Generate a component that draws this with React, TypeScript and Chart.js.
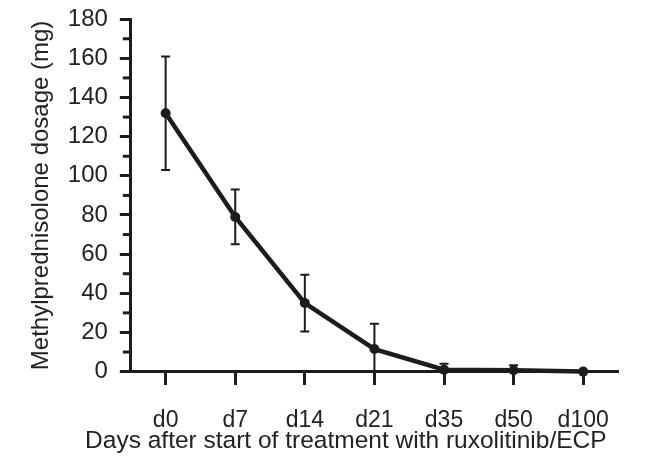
import React, { useEffect, useRef } from "react";
import { Chart, registerables } from "chart.js";

Chart.register(...registerables);

const categories = ["d0", "d7", "d14", "d21", "d35", "d50", "d100"];
const dosage = [132, 79, 35, 11.5, 1, 0.7, 0];
const errors = [29, 14, 14.5, 13, 3, 2.5, 0];
const yTicks = [0, 20, 40, 60, 80, 100, 120, 140, 160, 180];
const xTitle = "Days after start of treatment with ruxolitinib/ECP";
const yTitle = "Methylprednisolone dosage (mg)";

const INK = "#1c1c1c";
const FONT = "'Liberation Sans', Arial, Helvetica, sans-serif";

const errorBarPlugin = {
  id: "errorBars",
  afterDatasetsDraw(chart: any) {
    const { ctx, scales } = chart;
    const x = scales.x;
    const y = scales.y;
    ctx.save();
    ctx.strokeStyle = INK;
    ctx.lineWidth = 2;
    dosage.forEach((v, i) => {
      const e = errors[i];
      if (!e) return;
      const px = x.getPixelForValue(i);
      const top = y.getPixelForValue(v + e);
      const bot = y.getPixelForValue(Math.max(0, v - e));
      ctx.beginPath();
      ctx.moveTo(px, top);
      ctx.lineTo(px, bot);
      ctx.moveTo(px - 4.5, top);
      ctx.lineTo(px + 4.5, top);
      ctx.moveTo(px - 4.5, bot);
      ctx.lineTo(px + 4.5, bot);
      ctx.stroke();
    });
    ctx.restore();
  },
  afterDraw(chart: any) {
    const { ctx, scales } = chart;
    const y = scales.y;
    ctx.save();
    ctx.strokeStyle = INK;
    ctx.lineWidth = 3;
    for (let i = 0; i < yTicks.length - 1; i++) {
      const mv = (yTicks[i] + yTicks[i + 1]) / 2;
      const py = y.getPixelForValue(mv);
      ctx.beginPath();
      ctx.moveTo(y.right, py);
      ctx.lineTo(y.right - 8, py);
      ctx.stroke();
    }
    ctx.restore();
  },
};

export default function App() {
  const ref = useRef<HTMLCanvasElement | null>(null);
  useEffect(() => {
    if (!ref.current) return;
    const chart = new Chart(ref.current, {
      type: "line",
      data: {
        labels: categories,
        datasets: [
          {
            data: dosage,
            borderColor: INK,
            backgroundColor: INK,
            borderWidth: 4.5,
            pointRadius: 5,
            pointBackgroundColor: INK,
            pointBorderWidth: 0,
            tension: 0,
            clip: false as any,
          },
        ],
      },
      options: {
        animation: false,
        responsive: false,
        maintainAspectRatio: false,
        layout: { padding: { top: 0, right: 51, left: 26, bottom: 0 } },
        plugins: {
          legend: { display: false },
          tooltip: { enabled: false },
          title: {
            display: true,
            position: "bottom",
            align: "center",
            text: "       " + xTitle,
            color: "#222",
            font: { family: FONT, size: 24.5, weight: "normal" },
            padding: { top: -9.4, bottom: 3.8 },
          },
        },
        scales: {
          x: {
            type: "category",
            offset: true,
            border: { display: true, color: INK, width: 3 },
            grid: {
              display: true,
              drawOnChartArea: false,
              drawTicks: true,
              tickLength: 33,
              tickWidth: 3,
              tickColor: INK,
              tickBorderDash: [12, 100],
              offset: false,
            },
            ticks: { color: "#222", font: { family: FONT, size: 23 }, padding: 2 },
          },
          y: {
            type: "linear",
            min: 0,
            max: 180,
            afterBuildTicks: (scale: any) => {
              scale.ticks = yTicks.map((v) => ({ value: v }));
            },
            border: { display: true, color: INK, width: 3 },
            grid: {
              display: true,
              drawOnChartArea: false,
              drawTicks: true,
              tickLength: 11,
              tickWidth: 3,
              tickColor: INK,
            },
            ticks: { color: "#222", font: { family: FONT, size: 24, lineHeight: 0.6 }, padding: 12 },
            title: {
              display: true,
              text: yTitle,
              color: "#222",
              font: { family: FONT, size: 24 },
              padding: { top: 1, bottom: 0 },
            },
          },
        },
      },
      plugins: [errorBarPlugin],
    });
    return () => chart.destroy();
  }, []);
  return (
    <div style={{ position: "fixed", left: 0, top: 0, width: 669, height: 460, background: "#fff" }}>
      <canvas ref={ref} width={669} height={460} style={{ display: "block" }} />
    </div>
  );
}
